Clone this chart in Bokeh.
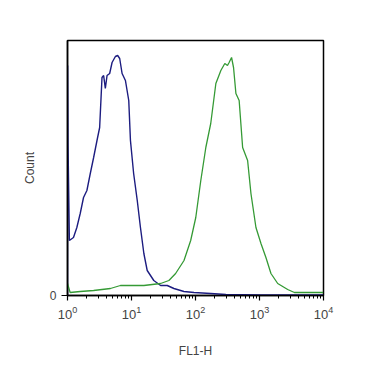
from bokeh.plotting import figure
from bokeh.models import Range1d, FixedTicker, LogTicker, LogTickFormatter
from bokeh.embed import file_html
from bokeh.resources import INLINE

# Blue (control) histogram: FL1-H value, count
blue_x = [1.0, 1.005, 1.02, 1.07, 1.24, 1.40, 1.58, 1.78, 2.01, 2.27, 2.56, 2.89, 3.18, 3.46, 3.67,
          3.90, 4.15, 4.56, 4.97, 5.60, 6.08, 6.54, 7.13, 8.04, 9.06, 9.63, 10.8, 12.3, 13.8,
          15.6, 17.6, 22.3, 28.5, 36.2, 46.0, 66.0, 94.7, 173, 298, 1050, 9900]
blue_y = [0, 230, 150, 55, 58, 68, 82, 98, 105, 122, 138, 155, 168, 218, 220,
          207, 220, 222, 233, 239, 240, 237, 222, 215, 195, 155, 122, 95, 68,
          42, 25, 15, 10, 10, 7, 4, 3, 2, 1, 0.5, 0.5]

# Green (stained) histogram
green_x = [1.0, 1.10, 1.58, 2.56, 4.68, 6.71, 15.6, 28.5, 38.4, 48.9, 66.1, 84.1, 101, 121,
           145, 173, 208, 249, 287, 316, 335, 366, 393, 428, 481, 545, 652, 735, 880,
           1054, 1260, 1510, 1926, 2756, 3510, 6410, 9890]
green_y = [12, 3, 4, 5, 7, 10, 10, 12, 15, 22, 35, 55, 78, 115,
           148, 172, 212, 225, 232, 230, 233, 238, 228, 202, 195, 148, 135, 102, 68,
           52, 38, 22, 12, 6, 3, 3, 3]

y_ticks = [0]

p = figure(width=382, height=383, x_axis_type="log",
           x_range=Range1d(1, 10000), y_range=Range1d(0, 255),
           output_backend="svg", toolbar_location=None,
           min_border_left=67, min_border_right=59, min_border_top=40, min_border_bottom=88)

p.line(blue_x, blue_y, line_color="#1c1c80", line_width=1.4)
p.line(green_x, green_y, line_color="#359a35", line_width=1.3)

p.grid.visible = False
p.outline_line_color = "black"
p.outline_line_width = 1.5
p.background_fill_color = "white"
p.border_fill_color = "white"

xa = p.xaxis[0]
xa.ticker = LogTicker(num_minor_ticks=10)
xa.formatter = LogTickFormatter()
xa.axis_label = "FL1-H"
xa.axis_label_text_font = "Liberation Sans"
xa.axis_label_text_font_style = "normal"
xa.axis_label_text_font_size = "12px"
xa.axis_label_standoff = 22
xa.major_label_text_font = "Liberation Sans"
xa.major_label_text_font_size = "13px"
xa.major_tick_out = 5
xa.major_tick_in = 0
xa.minor_tick_out = 3
xa.minor_tick_in = 0
xa.axis_line_width = 1.5
xa.major_tick_line_width = 1.2

ya = p.yaxis[0]
ya.ticker = FixedTicker(ticks=y_ticks)
ya.axis_label = "Count"
ya.axis_label_text_font = "Liberation Sans"
ya.axis_label_text_font_style = "normal"
ya.axis_label_text_font_size = "12px"
ya.axis_label_standoff = 10
ya.major_label_text_font = "Liberation Sans"
ya.major_label_text_font_size = "12px"
ya.major_tick_out = 6
ya.major_tick_in = 0
ya.minor_tick_line_color = None
ya.axis_line_width = 1.5

open("out.html", "w").write(file_html(p, INLINE))
